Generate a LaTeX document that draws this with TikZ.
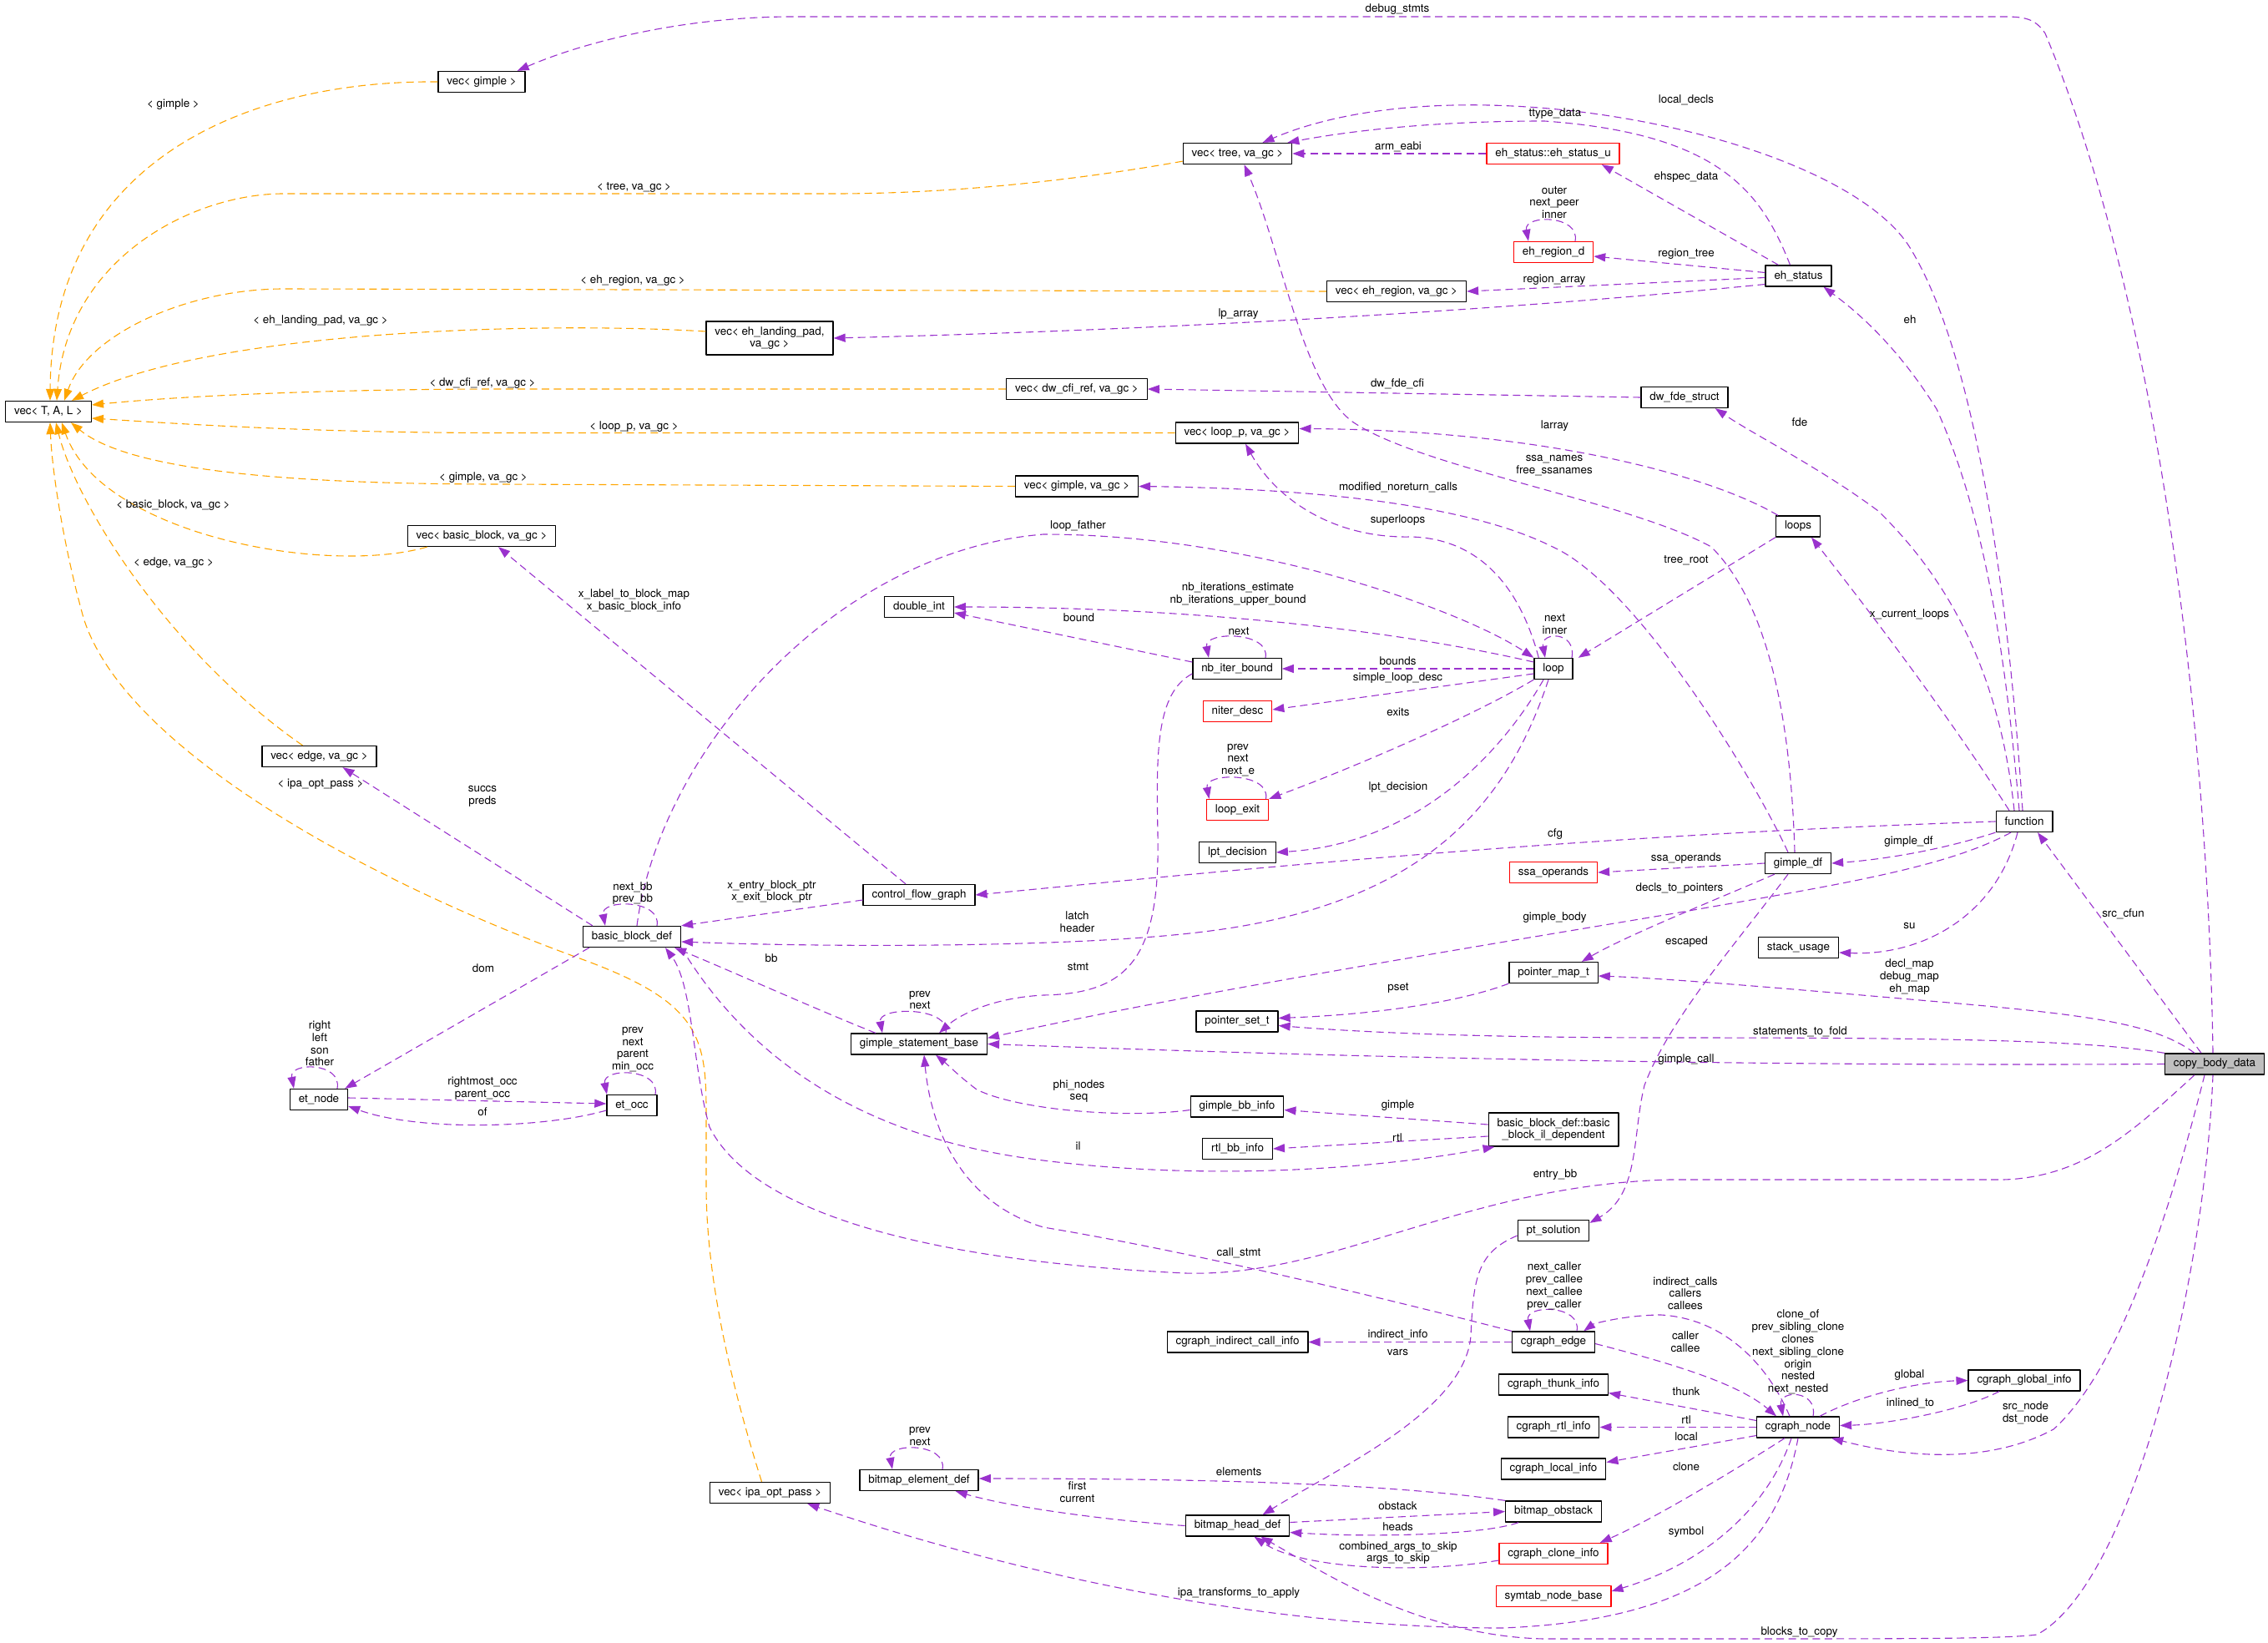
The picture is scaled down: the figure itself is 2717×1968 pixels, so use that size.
\documentclass[tikz,border=0pt]{standalone}
\usepackage{fontspec}
\setmainfont{TeX Gyre Heros}
\usetikzlibrary{arrows.meta}
\definecolor{Epurple}{RGB}{154,50,205}
\definecolor{Eorange}{RGB}{255,165,0}
\definecolor{Nred}{RGB}{255,0,0}
\definecolor{Ngrey}{RGB}{191,191,191}
\newcommand{\dfont}{\fontsize{6.7}{7.4}\selectfont}
\tikzset{
  cls/.style={draw=black,line width=0.65pt,fill=white,font=\dfont,inner xsep=5.2pt,inner ysep=0pt,minimum height=12.5pt,align=center},
  ucls/.style={cls,draw=Nred},
  ccls/.style={cls,fill=Ngrey},
  mem/.style={draw=Epurple,line width=0.55pt,dash pattern=on 4.5pt off 2.7pt,-{Triangle[length=7pt,width=5pt]}},
  tpl/.style={mem,draw=Eorange},
  lbl/.style={font=\dfont,inner sep=0pt,align=center}
}

\begin{document}
\begin{tikzpicture}[x=0.5pt,y=-0.5pt,line cap=butt,line join=round]
\useasboundingbox (0,0) rectangle (2717,1968);
% classes
\node[cls] (TAL) at (58,493) {vec< T, A, L >};
\node[cls] (vg) at (577,98) {vec< gimple >};
\node[cls] (vbb) at (577,642) {vec< basic\_block, va\_gc >};
\node[cls] (vt) at (1482.5,184) {vec< tree, va\_gc >};
\node[ucls] (esu) at (1860.5,184) {eh\_status::eh\_status\_u};
\node[ucls] (erd) at (1861,302) {eh\_region\_d};
\node[cls] (ver) at (1673,349) {vec< eh\_region, va\_gc >};
\node[cls] (ehs) at (2154.5,330.5) {eh\_status};
\node[cls,minimum height=20pt] (vlp) at (922,405) {vec< eh\_landing\_pad,\\va\_gc >};
\node[cls] (vcfi) at (1290,466) {vec< dw\_cfi\_ref, va\_gc >};
\node[cls] (fde) at (2018,476) {dw\_fde\_struct};
\node[cls] (vloop) at (1482,518.5) {vec< loop\_p, va\_gc >};
\node[cls] (vgv) at (1290,582.5) {vec< gimple, va\_gc >};
\node[cls] (loops) at (2154,630.5) {loops};
\node[cls] (dint) at (1101,727) {double\_int};
\node[cls] (nib) at (1482,801) {nb\_iter\_bound};
\node[cls] (loop) at (1861,801) {loop};
\node[ucls] (nd) at (1482.5,852) {niter\_desc};
\node[ucls] (lex) at (1482.5,970) {loop\_exit};
\node[cls] (lpt) at (1482.5,1021) {lpt\_decision};
\node[cls] (vedge) at (382.5,906) {vec< edge, va\_gc >};
\node[cls] (fun) at (2425,984) {function};
\node[cls] (gdf) at (2154,1034) {gimple\_df};
\node[ucls] (ssa) at (1861,1045) {ssa\_operands};
\node[cls] (cfg) at (1101,1072) {control\_flow\_graph};
\node[cls] (bbd) at (757,1122) {basic\_block\_def};
\node[cls] (stu) at (2154.5,1135) {stack\_usage};
\node[cls] (pmap) at (1861,1165) {pointer\_map\_t};
\node[cls] (pset) at (1482,1223.5) {pointer\_set\_t};
\node[cls] (gsb) at (1101,1250.5) {gimple\_statement\_base};
\node[ccls] (cbd) at (2653,1274.5) {copy\_body\_data};
\node[cls] (etn) at (382,1317) {et\_node};
\node[cls] (eto) at (757,1324) {et\_occ};
\node[cls] (gbb) at (1482,1325.5) {gimple\_bb\_info};
\node[cls,minimum height=20pt] (bbil) at (1861,1353) {basic\_block\_def::basic\\\_block\_il\_dependent};
\node[cls] (rbb) at (1482.5,1376) {rtl\_bb\_info};
\node[cls] (pts) at (1861,1474) {pt\_solution};
\node[cls] (cici) at (1482.5,1607.5) {cgraph\_indirect\_call\_info};
\node[cls] (ced) at (1861,1607.5) {cgraph\_edge};
\node[cls] (cgi) at (2425,1653.5) {cgraph\_global\_info};
\node[cls] (cti) at (1861,1658.5) {cgraph\_thunk\_info};
\node[cls] (cnode) at (2154,1709.5) {cgraph\_node};
\node[cls] (cri) at (1861,1709.5) {cgraph\_rtl\_info};
\node[cls] (cli) at (1861,1759.5) {cgraph\_local\_info};
\node[cls] (bed) at (1101,1773) {bitmap\_element\_def};
\node[cls] (vipa) at (922.5,1788) {vec< ipa\_opt\_pass >};
\node[cls] (bob) at (1861,1810.5) {bitmap\_obstack};
\node[cls] (bhd) at (1482.5,1827.5) {bitmap\_head\_def};
\node[ucls] (cci) at (1861,1861) {cgraph\_clone\_info};
\node[ucls] (snb) at (1861,1912) {symtab\_node\_base};

% template instances
\draw[tpl] (vg.west) .. controls (300,96) and (62,190) .. ([xshift=1pt]TAL.north);
\draw[tpl] ([yshift=2pt]vt.south west) .. controls (1300,214) and (1150,232) .. (1000,232) -- (340,232) .. controls (230,232) and (80,310) .. ([xshift=5pt]TAL.north);
\draw[tpl] (ver.west) -- (340,346) .. controls (225,346) and (105,400) .. ([xshift=9.5pt]TAL.north);
\draw[tpl] ([yshift=4pt]vlp.west) .. controls (650,385) and (250,395) .. ([xshift=14pt]TAL.north);
\draw[tpl] (vcfi.west) -- (600,466) .. controls (400,466) and (220,474) .. ([yshift=4pt]TAL.east);
\draw[tpl] (vloop.west) -- (600,518.5) .. controls (380,518.5) and (220,508) .. ([yshift=-4pt]TAL.east);
\draw[tpl] (vgv.west) -- (600,580) .. controls (320,580) and (150,560) .. ([xshift=13.5pt]TAL.south);
\draw[tpl] ([xshift=12pt]vbb.south west) .. controls (390,690) and (120,640) .. ([xshift=8pt]TAL.south);
\draw[tpl] ([xshift=-10pt]vedge.north) .. controls (200,780) and (90,600) .. ([xshift=4.5pt]TAL.south);
\draw[tpl] ([xshift=-5pt]vipa.north) .. controls (870,1640) and (846,1520) .. (846,1420) -- (846,1330) .. controls (846,1240) and (835,1200) .. (700,1150) .. controls (450,1060) and (150,900) .. (100,740) .. controls (75,650) and (62,560) .. ([xshift=1pt]TAL.south);

% members
\draw[mem] ([xshift=-1pt]cbd.north) .. controls (2645,850) and (2580,350) .. (2450,40) .. controls (2438,22) and (2425,20) .. (2400,20) -- (950,20) .. controls (820,20) and (700,50) .. ([xshift=-5pt]vg.north east);
\draw[mem] ([xshift=-1pt]fun.north) .. controls (2405,700) and (2365,420) .. (2287,295) .. controls (2200,160) and (1750,70) .. ([xshift=15pt]vt.north);
\draw[mem] ([xshift=-5pt]ehs.north) .. controls (2110,230) and (2060,160) .. (1850,145) .. controls (1700,145) and (1600,160) .. ([xshift=-3pt]vt.north east);
\draw[mem] (esu.west) -- (vt.east);
\draw[mem] ([xshift=8pt]ehs.north west) -- ([xshift=-11pt]esu.south east);
\draw[mem] ([xshift=13pt]erd.north) .. controls +(6,-32) and +(-6,-32) .. ([xshift=-15pt]erd.north);
\draw[mem] ([yshift=2pt]ehs.west) -- ([yshift=-2.5pt]erd.east);
\draw[mem] ([yshift=-1pt]ehs.west) -- (ver.east);
\draw[mem] ([yshift=-5pt]ehs.west) .. controls (1800,372) and (1400,395) .. (vlp.east);
\draw[mem] (fde.west) -- (vcfi.east);
\draw[mem] ([xshift=-6pt]fun.north) .. controls (2395,800) and (2330,690) .. (2250,612) .. controls (2180,560) and (2100,520) .. ([xshift=-8pt]fde.south east);
\draw[mem] ([xshift=-3pt]fun.north) .. controls (2400,750) and (2370,600) .. (2320,490) .. controls (2270,410) and (2220,370) .. ([xshift=15pt]ehs.south);
\draw[mem] ([xshift=-9pt]fun.north) .. controls (2330,850) and (2230,720) .. ([xshift=8pt]loops.south);
\draw[mem] ([xshift=-12pt]loops.north) .. controls (2050,570) and (1850,515) .. ([yshift=2.5pt]vloop.east);
\draw[mem] ([xshift=-2pt]gdf.north) .. controls (2145,850) and (2115,720) .. (2050,655) .. controls (1950,600) and (1700,560) .. (1620,505) .. controls (1560,460) and (1535,300) .. ([xshift=4pt]vt.south);
\draw[mem] ([xshift=-6pt]gdf.north) .. controls (2100,930) and (1960,700) .. (1860,655) .. controls (1750,600) and (1550,585) .. (vgv.east);
\draw[mem] ([xshift=3pt]loop.north west) .. controls (1820,700) and (1770,645) .. (1690,643) .. controls (1600,645) and (1530,600) .. ([xshift=5pt]vloop.south);
\draw[mem] ([xshift=3pt]bbd.north) .. controls (790,900) and (1000,660) .. (1250,640) .. controls (1500,640) and (1750,730) .. (loop.north west);
\draw[mem] (loops.south west) -- ([xshift=3pt]loop.north east);
\draw[mem] ([xshift=11pt]loop.north) .. controls +(6,-32) and +(-6,-32) .. ([xshift=-5pt]loop.north);
\draw[mem] ([yshift=4pt]loop.west) .. controls (1650,750) and (1400,727) .. (dint.east);
\draw[mem] ([yshift=4pt]nib.west) -- ([yshift=-3.5pt]dint.east);
\draw[mem] ([xshift=17pt]nib.north) .. controls +(6,-32) and +(-6,-32) .. ([xshift=-17pt]nib.north);
\draw[mem] (loop.west) -- (nib.east);
\draw[mem] ([yshift=-3pt]loop.west) -- ([yshift=1pt]nd.east);
\draw[mem] (loop.south west) .. controls (1760,860) and (1620,920) .. (lex.north east);
\draw[mem] ([xshift=17pt]lex.north) .. controls +(6,-32) and +(-6,-32) .. ([xshift=-17pt]lex.north);
\draw[mem] ([xshift=-6pt]loop.south) .. controls (1800,900) and (1700,1010) .. (lpt.east);
\draw[mem] ([xshift=-3pt]loop.south) .. controls (1810,950) and (1720,1080) .. (1450,1115) .. controls (1300,1135) and (1000,1135) .. ([yshift=-3pt]bbd.east);
\draw[mem] ([yshift=-3pt]nib.west) .. controls (1385,830) and (1385,900) .. (1387,1000) .. controls (1390,1150) and (1350,1190) .. (1250,1192) .. controls (1190,1195) and (1150,1215) .. ([xshift=12pt]gsb.north);
\draw[mem] (fun.west) .. controls (1900,1000) and (1500,1040) .. (cfg.east);
\draw[mem] (fun.south west) .. controls (2320,1020) and (2250,1030) .. (gdf.east);
\draw[mem] ([xshift=-8pt]fun.south) .. controls (2330,1040) and (2200,1060) .. (2000,1095) .. controls (1700,1145) and (1400,1195) .. ([yshift=-3pt]gsb.north east);
\draw[mem] (gdf.west) -- (ssa.east);
\draw[mem] ([xshift=6pt]gdf.south west) .. controls (2050,1080) and (1950,1120) .. ([xshift=-10pt]pmap.north east);
\draw[mem] ([xshift=-6pt]gdf.south) .. controls (2080,1130) and (2000,1220) .. (1970,1300) .. controls (1955,1360) and (1965,1430) .. ([yshift=-2pt]pts.north east);
\draw[mem] ([xshift=-4pt]fun.south) .. controls (2390,1100) and (2300,1145) .. ([yshift=-3pt]stu.east);
\draw[mem] ([xshift=-8pt]cbd.north) -- ([xshift=8pt]fun.south);
\draw[mem] ([xshift=-12pt]cbd.north) .. controls (2580,1225) and (2500,1215) .. (2300,1198) .. controls (2150,1185) and (2000,1172) .. ([yshift=-2pt]pmap.east);
\draw[mem] (cbd.north west) .. controls (2500,1245) and (2300,1243) .. (2000,1243) .. controls (1800,1243) and (1650,1238) .. ([yshift=-2.5pt]pset.east);
\draw[mem] (pmap.south west) .. controls (1750,1200) and (1650,1215) .. ([yshift=2pt]pset.east);
\draw[mem] (cbd.west) .. controls (2000,1278) and (1500,1262) .. (gsb.east);
\draw[mem] ([xshift=-12pt]cbd.south) .. controls (2560,1350) and (2500,1410) .. (2400,1413) -- (2000,1413) .. controls (1750,1420) and (1600,1530) .. (1420,1525) .. controls (1100,1510) and (900,1450) .. (850,1350) .. controls (830,1280) and (830,1180) .. ([xshift=20pt]bbd.south);
\draw[mem] (bbd.south east) .. controls (880,1240) and (1000,1360) .. (1250,1390) .. controls (1450,1415) and (1650,1400) .. ([xshift=4pt]bbil.south west);
\draw[mem] ([yshift=3pt]bbil.west) -- ([yshift=-2pt]gbb.east);
\draw[mem] ([yshift=-4pt]bbil.west) -- (rbb.east);
\draw[mem] ([yshift=-2pt]gbb.west) .. controls (1350,1340) and (1220,1330) .. (1170,1305) .. controls (1150,1290) and (1135,1275) .. ([xshift=10pt]gsb.south);
\draw[mem] ([xshift=16pt]gsb.north) .. controls +(6,-32) and +(-6,-32) .. ([xshift=-22pt]gsb.north);
\draw[mem] ([xshift=-26pt]gsb.north) .. controls (980,1210) and (880,1165) .. ([xshift=-4pt]bbd.south east);
\draw[mem] (ced.north west) .. controls (1600,1540) and (1400,1495) .. (1250,1470) .. controls (1150,1440) and (1115,1350) .. ([xshift=3pt]gsb.south);
\draw[mem] ([xshift=15pt]bbd.north) .. controls +(6,-32) and +(-6,-32) .. ([xshift=-16pt]bbd.north);
\draw[mem] ([yshift=-3pt]cfg.west) -- (bbd.north east);
\draw[mem] ([xshift=-8pt]cfg.north) -- ([xshift=10pt]vbb.south);
\draw[mem] ([xshift=6pt]bbd.north west) -- ([xshift=14pt]vedge.south);
\draw[mem] ([xshift=4pt]bbd.south west) -- ([xshift=-2pt]etn.north east);
\draw[mem] ([xshift=11pt]etn.north) .. controls +(6,-32) and +(-6,-32) .. ([xshift=-15pt]etn.north);
\draw[mem] ([yshift=1pt]etn.east) -- ([yshift=1pt]eto.west);
\draw[mem] ([yshift=-3pt]eto.west) .. controls (650,1352) and (500,1355) .. ([yshift=-4pt]etn.east);
\draw[mem] ([xshift=14pt]eto.north) .. controls +(6,-32) and +(-6,-32) .. ([xshift=-15pt]eto.north);
\draw[mem] (ced.west) -- (cici.east);
\draw[mem] ([xshift=14pt]ced.north) .. controls +(6,-32) and +(-6,-32) .. ([xshift=-14pt]ced.north);
\draw[mem] ([xshift=-5pt]cnode.north) .. controls (2120,1640) and (2070,1580) .. (1990,1575) .. controls (1950,1575) and (1910,1585) .. ([xshift=-7pt]ced.north east);
\draw[mem] ([yshift=-1pt]ced.east) .. controls (1990,1630) and (2080,1655) .. ([xshift=-13pt]cnode.north);
\draw[mem] ([xshift=9pt]cnode.north) .. controls +(6,-32) and +(-6,-32) .. ([xshift=-9pt]cnode.north);
\draw[mem] ([xshift=13pt]cnode.north) .. controls (2230,1670) and (2300,1655) .. (cgi.west);
\draw[mem] ([xshift=-15pt]cgi.south) .. controls (2350,1690) and (2260,1706) .. ([yshift=1pt]cnode.east);
\draw[mem] ([xshift=-6pt]cbd.south) .. controls (2600,1450) and (2540,1640) .. (2460,1712) .. controls (2380,1755) and (2280,1745) .. ([xshift=-5pt]cnode.south east);
\draw[mem] ([yshift=4pt]cnode.west) -- ([yshift=-5pt]cti.east);
\draw[mem] (cnode.west) -- (cri.east);
\draw[mem] ([yshift=-5pt]cnode.west) -- ([yshift=4pt]cli.east);
\draw[mem] ([xshift=-8pt]cnode.south) .. controls (2080,1760) and (1980,1820) .. ([xshift=-5pt]cci.north east);
\draw[mem] ([xshift=-4pt]cnode.south) .. controls (2120,1800) and (2050,1870) .. ([yshift=3pt]snb.east);
\draw[mem] (cnode.south) .. controls (2130,1850) and (2050,1940) .. (1800,1950) .. controls (1500,1950) and (1200,1880) .. ([xshift=-14pt]vipa.south east);
\draw[mem] ([yshift=-3pt]pts.west) .. controls (1770,1500) and (1765,1530) .. (1762,1600) .. controls (1755,1690) and (1600,1760) .. ([xshift=15pt]bhd.north);
\draw[mem] (bob.north west) .. controls (1650,1775) and (1400,1771) .. ([yshift=1pt]bed.east);
\draw[mem] ([yshift=2pt]bhd.east) -- (bob.west);
\draw[mem] ([xshift=8pt]bob.south west) .. controls (1780,1838) and (1650,1842) .. ([yshift=-4pt]bhd.east);
\draw[mem] (bhd.west) .. controls (1350,1823) and (1220,1808) .. ([xshift=-14pt]bed.south east);
\draw[mem] ([xshift=14pt]bed.north) .. controls +(6,-32) and +(-6,-32) .. ([xshift=-16pt]bed.north);
\draw[mem] ([yshift=-4pt]cci.west) .. controls (1700,1885) and (1560,1880) .. ([xshift=10pt]bhd.south);
\draw[mem] ([xshift=-1pt]cbd.south) .. controls (2640,1550) and (2550,1900) .. (2440,1958) .. controls (2400,1963) and (2300,1963) .. (2020,1963) -- (1850,1963) .. controls (1700,1960) and (1580,1880) .. ([xshift=14pt]bhd.south);

% edge labels
\node[lbl] (Ldebug) at (1674,11.5) {debug\_stmts};
\node[lbl] (Tgimple) at (207.5,125) {< gimple >};
\node[lbl] (Ttree) at (759.5,224) {< tree, va\_gc >};
\node[lbl] (Llocal) at (2020,119.5) {local\_decls};
\node[lbl] (Lttype) at (1863,136) {ttype\_data};
\node[lbl] (Larm) at (1675,175.5) {arm\_eabi};
\node[lbl] (Lehspec) at (2020,212) {ehspec\_data};
\node[lbl] (Louter) at (1862,242.5) {outer\\next\_peer\\inner};
\node[lbl] (Lrtree) at (2020,304) {region\_tree};
\node[lbl] (Lrarray) at (1862,335) {region\_array};
\node[lbl] (Tregion) at (758,336) {< eh\_region, va\_gc >};
\node[lbl] (Llp) at (1483.5,376.5) {lp\_array};
\node[lbl] (Tlanding) at (384,384) {< eh\_landing\_pad, va\_gc >};
\node[lbl] (Leh) at (2288,383) {eh};
\node[lbl] (Tcfi) at (578,459) {< dw\_cfi\_ref, va\_gc >};
\node[lbl] (Lfdecfi) at (1674,460) {dw\_fde\_cfi};
\node[lbl] (Lfde) at (2156,506) {fde};
\node[lbl] (Llarray) at (1862.5,510.5) {larray};
\node[lbl] (Tloopp) at (759.5,511) {< loop\_p, va\_gc >};
\node[lbl] (Lssanames) at (1862,557.5) {ssa\_names\\free\_ssanames};
\node[lbl] (Tgimplegc) at (579,572) {< gimple, va\_gc >};
\node[lbl] (Lmodified) at (1675,584) {modified\_noreturn\_calls};
\node[lbl] (Tbb) at (207.5,605) {< basic\_block, va\_gc >};
\node[lbl] (Lsuper) at (1674.5,623) {superloops};
\node[lbl] (Lfather) at (1291.5,630.5) {loop\_father};
\node[lbl] (Lroot) at (2020,671.5) {tree\_root};
\node[lbl] (Tedge) at (208,674.5) {< edge, va\_gc >};
\node[lbl] (Lnbit) at (1483,711.5) {nb\_iterations\_estimate\\nb\_iterations\_upper\_bound};
\node[lbl] (Lxlabel) at (759.5,719) {x\_label\_to\_block\_map\\x\_basic\_block\_info};
\node[lbl] (Lcurloops) at (2287.5,736) {x\_current\_loops};
\node[lbl] (Lbound) at (1292.5,739.5) {bound};
\node[lbl] (Lnextinner) at (1862.5,748) {next\\inner};
\node[lbl] (Lnibnext) at (1484,756) {next};
\node[lbl] (Lbounds) at (1674.5,792) {bounds};
\node[lbl] (Lsimple) at (1674.5,812.5) {simple\_loop\_desc};
\node[lbl] (Lexits) at (1675,852.5) {exits};
\node[lbl] (Lnexte) at (1483,910.5) {prev\\next\\next\_e};
\node[lbl] (Tipa) at (384,939) {< ipa\_opt\_pass >};
\node[lbl] (Llpt) at (1675,943.5) {lpt\_decision};
\node[lbl] (Lsuccs) at (578,954) {succs\\preds};
\node[lbl] (Lcfg) at (1863,999) {cfg};
\node[lbl] (Lgdf) at (2286.5,1008.5) {gimple\_df};
\node[lbl] (Lssaop) at (2020,1028.5) {ssa\_operands};
\node[lbl] (Ldecls) at (2012,1064) {decls\_to\_pointers};
\node[lbl] (Lentryptr) at (924.5,1068) {x\_entry\_block\_ptr\\x\_exit\_block\_ptr};
\node[lbl] (Lnextbb) at (758,1070) {next\_bb\\prev\_bb};
\node[lbl] (Lsrccfun) at (2543.5,1094.5) {src\_cfun};
\node[lbl] (Lbody) at (1862.5,1099.5) {gimple\_body};
\node[lbl] (Llatch) at (1290.5,1104) {latch\\header};
\node[lbl] (Lsu) at (2287.5,1109) {su};
\node[lbl] (Lescaped) at (2020.5,1128.5) {escaped};
\node[lbl] (Lbb) at (924,1147.5) {bb};
\node[lbl] (Lstmt) at (1291.5,1158.5) {stmt};
\node[lbl] (Ldom) at (579,1160) {dom};
\node[lbl] (Ldeclmap) at (2287.5,1170) {decl\_map\\debug\_map\\eh\_map};
\node[lbl] (Lpset) at (1675,1183) {pset};
\node[lbl] (Lgsbnext) at (1102,1198) {prev\\next};
\node[lbl] (Lfold) at (2156.5,1235.5) {statements\_to\_fold};
\node[lbl] (Lright) at (383,1250) {right\\left\\son\\father};
\node[lbl] (Lminocc) at (758,1257) {prev\\next\\parent\\min\_occ};
\node[lbl] (Lgcall) at (2020,1269) {gimple\_call};
\node[lbl] (Lrightmost) at (578,1303.5) {rightmost\_occ\\parent\_occ};
\node[lbl] (Lphi) at (1292.5,1307) {phi\_nodes\\seq};
\node[lbl] (Lgimple) at (1674.5,1324.5) {gimple};
\node[lbl] (Lof) at (578,1332) {of};
\node[lbl] (Lrtlbb) at (1674,1363) {rtl};
\node[lbl] (Lil) at (1291.5,1372.5) {il};
\node[lbl] (Lentry) at (1863,1407) {entry\_bb};
\node[lbl] (Lcallstmt) at (1484,1500.5) {call\_stmt};
\node[lbl] (Lnextcaller) at (1862,1540.5) {next\_caller\\prev\_callee\\next\_callee\\prev\_caller};
\node[lbl] (Lindcalls) at (2019,1549) {indirect\_calls\\callers\\callees};
\node[lbl] (Lindinfo) at (1674.5,1599) {indirect\_info};
\node[lbl] (Lcaller) at (2019,1607) {caller\\callee};
\node[lbl] (Lcloneof) at (2154,1619.5) {clone\_of\\prev\_sibling\_clone\\clones\\next\_sibling\_clone\\origin\\nested\\next\_nested};
\node[lbl] (Lvars) at (1674.5,1620) {vars};
\node[lbl] (Lglobal) at (2287.5,1647.5) {global};
\node[lbl] (Lthunk) at (2020,1666.5) {thunk};
\node[lbl] (Linlined) at (2288.5,1680.5) {inlined\_to};
\node[lbl] (Lsrcnode) at (2426.5,1692) {src\_node\\dst\_node};
\node[lbl] (Lrtl) at (2020,1700.5) {rtl};
\node[lbl] (Lbednext) at (1102,1720.5) {prev\\next};
\node[lbl] (Llocal2) at (2020,1720.5) {local};
\node[lbl] (Lclone) at (2020,1757) {clone};
\node[lbl] (Lelements) at (1484,1762.5) {elements};
\node[lbl] (Lfirst) at (1290.5,1787.5) {first\\current};
\node[lbl] (Lobstack) at (1674.5,1803.5) {obstack};
\node[lbl] (Lheads) at (1674.5,1828.5) {heads};
\node[lbl] (Lsymbol) at (2020,1835.5) {symbol};
\node[lbl] (Lskip) at (1675,1860) {combined\_args\_to\_skip\\args\_to\_skip};
\node[lbl] (Lipa) at (1484,1908) {ipa\_transforms\_to\_apply};
\node[lbl] (Lblocks) at (2155.5,1955) {blocks\_to\_copy};
\end{tikzpicture}
\end{document}
